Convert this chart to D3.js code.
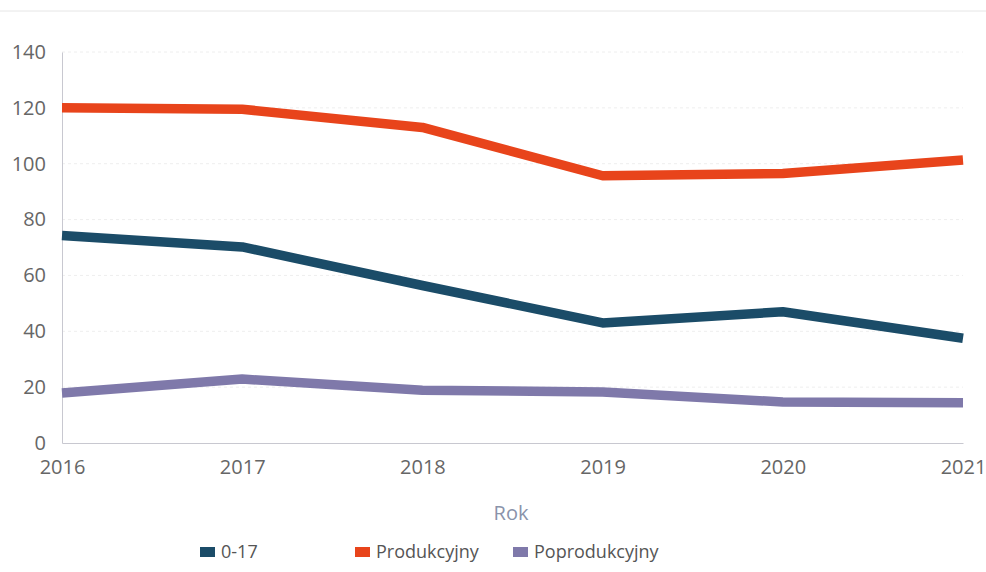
<!DOCTYPE html>
<html><head><meta charset="utf-8">
<script src="https://cdn.jsdelivr.net/npm/d3@7"></script>
<style>body{margin:0;background:#fff;}svg{display:block;font-family:"Open Sans","Noto Sans",sans-serif;}</style>
</head><body>
<svg id="c" width="986" height="572"></svg>
<script>
const years = [2016, 2017, 2018, 2019, 2020, 2021];
const seriesNames = ["0-17", "Produkcyjny", "Poprodukcyjny"];
const values017 = [74.3, 70.2, 56.4, 43, 47, 37.5];
const valuesProd = [120, 119.5, 113, 95.7, 96.5, 101.3];
const valuesPoprod = [17.9, 22.9, 18.9, 18.3, 14.7, 14.4];
const yTicks = [0, 20, 40, 60, 80, 100, 120, 140];
const colors = ["#1b4c68", "#e8441b", "#7f79aa"];
const xTitle = "Rok";

const svg = d3.select("#c");
const m = {l: 62, r: 23, t: 52, b: 129};
const W = 986, H = 572;
const x = d3.scalePoint().domain(years).range([m.l, W - m.r]);
const y = d3.scaleLinear().domain([0, 140]).range([H - m.b, m.t]);

// top rule
svg.append("line").attr("x1", 0).attr("x2", W).attr("y1", 11).attr("y2", 11)
  .attr("stroke", "#e6e6e6").attr("stroke-width", 1);

// grid
svg.append("g").selectAll("line").data(yTicks.filter(d => d > 0)).join("line")
  .attr("x1", m.l).attr("x2", W - m.r).attr("y1", d => y(d)).attr("y2", d => y(d))
  .attr("stroke", "#eeeeee").attr("stroke-dasharray", "3,3");

// y axis
const ya = svg.append("g").attr("transform", `translate(${m.l},0)`)
  .call(d3.axisLeft(y).tickValues(yTicks).tickSize(0).tickPadding(16));
ya.select(".domain").attr("stroke", "#c8c8d0");
ya.selectAll("text").attr("font-size", 20).attr("fill", "#666").attr("font-family", "'Open Sans',sans-serif");

// x axis
const xa = svg.append("g").attr("transform", `translate(0,${y(0)})`)
  .call(d3.axisBottom(x).tickSize(0).tickPadding(17));
xa.select(".domain").attr("stroke", "#c8c8d0");
xa.selectAll("text").attr("font-size", 20).attr("fill", "#666").attr("font-family", "'Open Sans',sans-serif");

// x title
svg.append("text").attr("x", 511).attr("y", 520).attr("text-anchor", "middle")
  .attr("font-size", 20).attr("fill", "#8a93aa").text(xTitle);

// lines
const data = [values017, valuesProd, valuesPoprod];
const line = d3.line().x((d, i) => x(years[i])).y(d => y(d));
svg.append("g").selectAll("path").data(data).join("path")
  .attr("d", line).attr("fill", "none")
  .attr("stroke", (d, i) => colors[i]).attr("stroke-width", 9.5)
  .attr("stroke-linejoin", "round").attr("stroke-linecap", "butt");

// legend
const legX = [200, 355, 513];
const lg = svg.append("g").selectAll("g").data(seriesNames).join("g")
  .attr("transform", (d, i) => `translate(${legX[i]},552)`);
lg.append("rect").attr("x", 0).attr("y", -5).attr("width", 15).attr("height", 10)
  .attr("fill", (d, i) => colors[i]);
lg.append("text").attr("x", 21).attr("y", 6).attr("font-size", 18).attr("fill", "#555").text(d => d);
</script>
</body></html>
